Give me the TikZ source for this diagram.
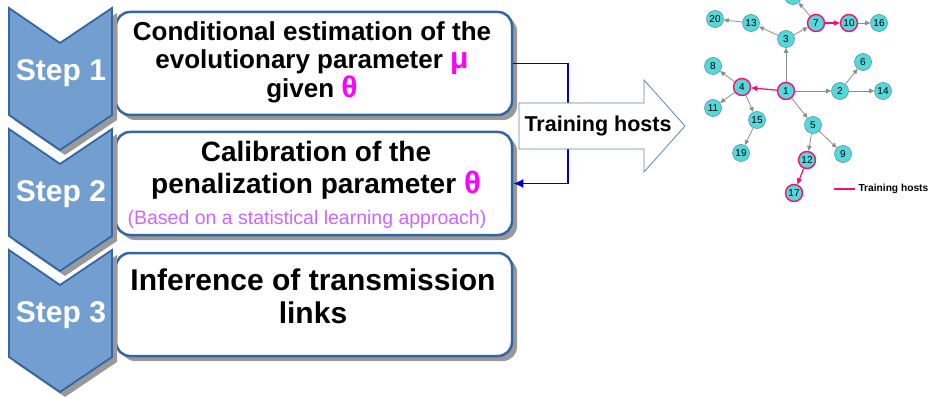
\documentclass[tikz,border=0pt]{standalone}
\usepackage{fontspec}
\setmainfont{Liberation Sans}
\usetikzlibrary{arrows.meta, shadows, positioning}

\definecolor{stepfill}{HTML}{729FCF}
\definecolor{stepline}{HTML}{3465A4}
\definecolor{hostpink}{HTML}{FF0A6C}
\definecolor{hostcyan}{HTML}{55D8DA}
\definecolor{hostline}{HTML}{5B8FA8}
\definecolor{noteviolet}{HTML}{CC66FF}
\definecolor{linkblue}{HTML}{0000CC}
\definecolor{greek}{HTML}{FF00FF}

\tikzset{
  stepbox/.style={draw=stepline, line width=2.5pt, rounded corners=14pt,
    fill=white, minimum width=396pt, minimum height=103pt, inner sep=0pt,
    drop shadow={shadow xshift=5pt, shadow yshift=-5pt, fill=black!40, opacity=1}},
  chevron/.style={draw=stepline, line width=1.8pt, fill=stepfill, line join=miter,
    drop shadow={shadow xshift=5pt, shadow yshift=-5pt, fill=black!40, opacity=1}},
  steplbl/.style={text=white, font=\bfseries\fontsize{30}{32}\selectfont},
  boxtxt/.style n args={2}{align=center, font=\bfseries\fontsize{#1}{#2}\selectfont},
  host/.style={circle, draw=hostline, line width=0.6pt, fill=hostcyan,
    minimum size=17pt, inner sep=0pt, font=\fontsize{10}{10}\selectfont},
  train/.style={draw=hostpink, line width=1.4pt},
  other/.style={},
  tree/.style={draw=black!45, line width=0.8pt, -{Triangle[length=5pt, width=4.5pt]}},
  treetrain/.style={draw=hostpink, line width=1.2pt, -{Triangle[length=6pt, width=5pt]}},
  link/.style={draw=linkblue, line width=1.6pt, -{Latex[length=10pt, width=9pt]}}
}

\begin{document}
\begin{tikzpicture}[x=1pt, y=-1pt]
\useasboundingbox (0,0) rectangle (931,398);
\clip (0,0) rectangle (931,398);

% boxes
\node[stepbox] (box1) at (314,63.5) {};
\node[stepbox] (box2) at (314,183.5) {};
\node[stepbox] (box3) at (314,304.5) {};

\node[boxtxt={26}{28.5}] (txt1) at (312,62)
  {Conditional estimation of the\\ evolutionary parameter \textcolor{greek}{\fontsize{30}{30}\selectfont μ}\\ given \textcolor{greek}{\fontsize{30}{30}\selectfont θ}};
\node[boxtxt={28}{32}] (txt2) at (316,170)
  {Calibration of the\\ penalization parameter \textcolor{greek}{\fontsize{31}{31}\selectfont θ}};
\node[text=noteviolet, font=\fontsize{19.5}{20}\selectfont] (note2) at (307,219)
  {(Based on a statistical learning approach)};
\node[boxtxt={30}{33}] (txt3) at (313,296) {Inference of transmission\\ links};

% chevrons
\foreach \y/\n in {250/3, 129/2, 8/1} {
  \draw[chevron] (9,\y) -- (60,\y+35) -- (112,\y) -- (112,\y+107)
    -- (60,\y+142) -- (9,\y+107) -- cycle;
  \node[steplbl] (step\n) at (61,\y+65) {Step \n};
}

% training hosts
\coordinate (bend) at (568,0);
\draw[link] (box1.east) -- (box1.east -| bend) |- (box2.east);
\draw[draw=stepline!80, line width=0.8pt, fill=white]
  (519,103) -- (644,103) -- (644,80) -- (685,126) -- (644,172)
  -- (644,149) -- (519,149) -- cycle;
\node[font=\bfseries\fontsize{21.5}{22}\selectfont] (hosts) at (598,126) {Training hosts};

% transmission tree
\foreach \n/\x/\y/\s in {1/786/91/train, 2/840/91/other, 3/786/39/other,
    4/742/87/train, 5/813/125/other, 6/863/62/other, 7/816/23/train,
    8/713/66/other, 9/843/154/other, 10/849/23/train, 11/713/108/other,
    12/807/160/train, 13/751/23/other, 14/883/91/other, 15/757/120/other,
    16/879/23/other, 17/794/193/train, 18/793/-4/other, 19/741/153/other,
    20/715/19/other}
  \node[host, \s] (h\n) at (\x,\y) {\n};

\foreach \a/\b in {1/3, 3/13, 13/20, 3/7, 7/18, 10/16, 1/2, 2/6, 2/14,
    1/5, 5/12, 5/9, 4/8, 4/11, 4/15, 15/19}
  \draw[tree] (h\a) -- (h\b);
\foreach \a/\b in {1/4, 7/10, 12/17}
  \draw[treetrain] (h\a) -- (h\b);

\coordinate (leg) at (834,189);
\node[font=\bfseries\fontsize{10.2}{11}\selectfont, anchor=west] (legtxt) at (855,189) {Training hosts};
\draw[draw=hostpink, line width=1.2pt] (leg) -- (legtxt.west);
\end{tikzpicture}
\end{document}
